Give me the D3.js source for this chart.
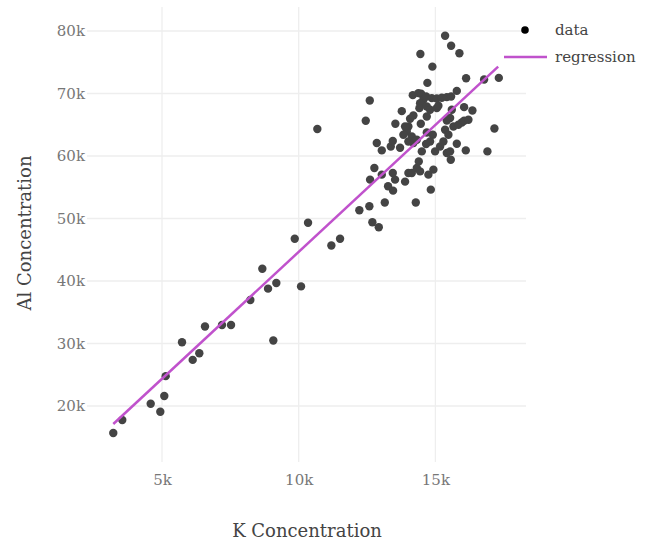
<!DOCTYPE html>
<html>
<head>
<meta charset="utf-8">
<script src="https://cdn.jsdelivr.net/npm/d3@7"></script>
<style>
  html, body { margin: 0; padding: 0; background: #fff; }
  svg { display: block; }
</style>
</head>
<body>
<svg id="chart" width="649" height="542"></svg>
<script>
// ---- Data ----
const kValues = [
  3218, 3547, 4587, 4938, 5084, 5135, 5732, 6123, 6365, 6573, 7195, 7525, 8231, 8670, 8879, 9182, 9072, 9856, 10086, 10342, 10682,
  11195, 11513, 12219, 12585, 12695, 12929, 13149, 13269, 13452, 13891, 14283, 14832,
  12611, 12768, 13039, 13441, 13525, 14012, 14137, 14320, 14393, 14440, 14503, 14744, 14927,
  12856, 13039, 13368, 13441, 13708, 14685, 14905, 14806, 14660, 14989, 15172, 15293, 15417, 15538, 15563, 15783, 16112, 16903,
  14074, 14195, 14012, 13954, 14137, 13829, 14012, 14195,
  15600, 15538, 15417, 15355, 15476, 15659, 15842, 15966, 16050, 16208, 16050, 16354,
  14173, 14378, 14477, 14561, 14440, 14415, 14685, 14806, 14685, 15051, 15110, 14660, 14868, 15051, 15234, 15417, 15575, 15783,
  15355, 15575, 15878, 14451, 14890, 14707, 16123, 16782, 17320, 12600, 12453, 13536, 13771, 17159,
  13891, 14320, 14466
];
const alValues = [
  15680, 17760, 20360, 19080, 21590, 24780, 30200, 27380, 28450, 32710, 32970, 32970, 36960, 41970, 38780, 39670, 30480, 46760, 39140, 49310, 64310,
  45690, 46760, 51320, 51960, 49400, 48610, 52550, 55150, 54460, 55900, 52550, 54620,
  56220, 58090, 57020, 57290, 56220, 57290, 57290, 58090, 59140, 57540, 60740, 57020, 57820,
  62080, 60900, 61530, 62400, 61330, 63770, 63400, 62330, 61920, 60740, 61530, 62330, 60480, 60740, 59410, 61970, 60900, 60740,
  65960, 66480, 64730, 63930, 63130, 63400, 62330, 62080,
  67390, 66070, 65680, 64200, 63400, 64730, 65000, 65370, 65640, 65800, 67820, 67280,
  69740, 70060, 69950, 68990, 68460, 67660, 67920, 67390, 66320, 67660, 68030, 69510, 69260, 69200, 69310, 69420, 69510, 70420,
  79250, 77650, 76440, 76330, 74300, 71700, 72450, 72230, 72500, 68880, 65640, 65160, 67180, 64410,
  64730, 62600, 65160
];
// Regression line endpoints
const regK = [3219, 17296];
const regAl = [17120, 74290];

const xTicks = [5000, 10000, 15000];
const yTicks = [20000, 30000, 40000, 50000, 60000, 70000, 80000];
const xTickLabels = ["5k", "10k", "15k"];
const yTickLabels = ["20k", "30k", "40k", "50k", "60k", "70k", "80k"];
const legendLabels = ["data", "regression"];
const xTitle = "K Concentration";
const yTitle = "Al Concentration";

// ---- Layout ----
const plotL = 87, plotR = 526, plotT = 7, plotB = 462;
const serif = "Georgia, 'DejaVu Serif', 'Liberation Serif', serif";

const x = d3.scaleLinear().domain([2257, 18314]).range([plotL, plotR]);
const y = d3.scaleLinear().domain([11040, 83840]).range([plotB, plotT]);

const svg = d3.select("#chart");

// Grid
const grid = svg.append("g");
grid.selectAll("line.vx").data(xTicks).join("line")
  .attr("class", "vx")
  .attr("x1", d => x(d)).attr("x2", d => x(d))
  .attr("y1", plotT).attr("y2", plotB)
  .attr("stroke", "#eeeeee").attr("stroke-width", 1.3);
grid.selectAll("line.hy").data(yTicks).join("line")
  .attr("class", "hy")
  .attr("x1", plotL).attr("x2", plotR)
  .attr("y1", d => y(d)).attr("y2", d => y(d))
  .attr("stroke", "#eeeeee").attr("stroke-width", 1.3);

// Axes (labels only)
const xAxis = d3.axisBottom(x).tickValues(xTicks)
  .tickFormat((d, i) => xTickLabels[i]).tickSize(0).tickPadding(0);
const gx = svg.append("g").attr("transform", `translate(0,${plotB + 12})`).call(xAxis);
gx.select(".domain").remove();
gx.selectAll("text").attr("font-family", serif).attr("font-size", 15).attr("fill", "#777");

const yAxis = d3.axisLeft(y).tickValues(yTicks)
  .tickFormat((d, i) => yTickLabels[i]).tickSize(0).tickPadding(0);
const gy = svg.append("g").attr("transform", `translate(${plotL - 2},0)`).call(yAxis);
gy.select(".domain").remove();
gy.selectAll("text").attr("font-family", serif).attr("font-size", 15).attr("fill", "#777");

// Points
const pts = kValues.map((k, i) => ({ k, a: alValues[i] }));
svg.append("g").selectAll("circle").data(pts).join("circle")
  .attr("cx", d => x(d.k)).attr("cy", d => y(d.a)).attr("r", 4.2)
  .attr("fill", "#444444");

// Regression line
const reg = regK.map((k, i) => ({ k, a: regAl[i] }));
svg.append("path").datum(reg)
  .attr("d", d3.line().x(d => x(d.k)).y(d => y(d.a)))
  .attr("fill", "none").attr("stroke", "#c052cc").attr("stroke-width", 2.5);

// Legend
const lg = svg.append("g");
lg.append("circle").attr("cx", 525).attr("cy", 30).attr("r", 3.8).attr("fill", "#000");
lg.append("line").attr("x1", 504).attr("x2", 547).attr("y1", 57).attr("y2", 57)
  .attr("stroke", "#c052cc").attr("stroke-width", 2.5);
lg.selectAll("text").data(legendLabels).join("text")
  .attr("x", 555).attr("y", (d, i) => 30 + i * 27).attr("dy", "0.35em")
  .attr("font-family", serif).attr("font-size", 15).attr("fill", "#444")
  .text(d => d);

// Titles
svg.append("text").attr("x", 307).attr("y", 531).attr("dy", "0.35em")
  .attr("text-anchor", "middle").attr("font-family", serif).attr("font-size", 18)
  .attr("fill", "#444").text(xTitle);
svg.append("text").attr("transform", `translate(25,233) rotate(-90)`).attr("dy", "0.35em")
  .attr("text-anchor", "middle").attr("font-family", serif).attr("font-size", 18)
  .attr("fill", "#444").text(yTitle);
</script>
</body>
</html>
